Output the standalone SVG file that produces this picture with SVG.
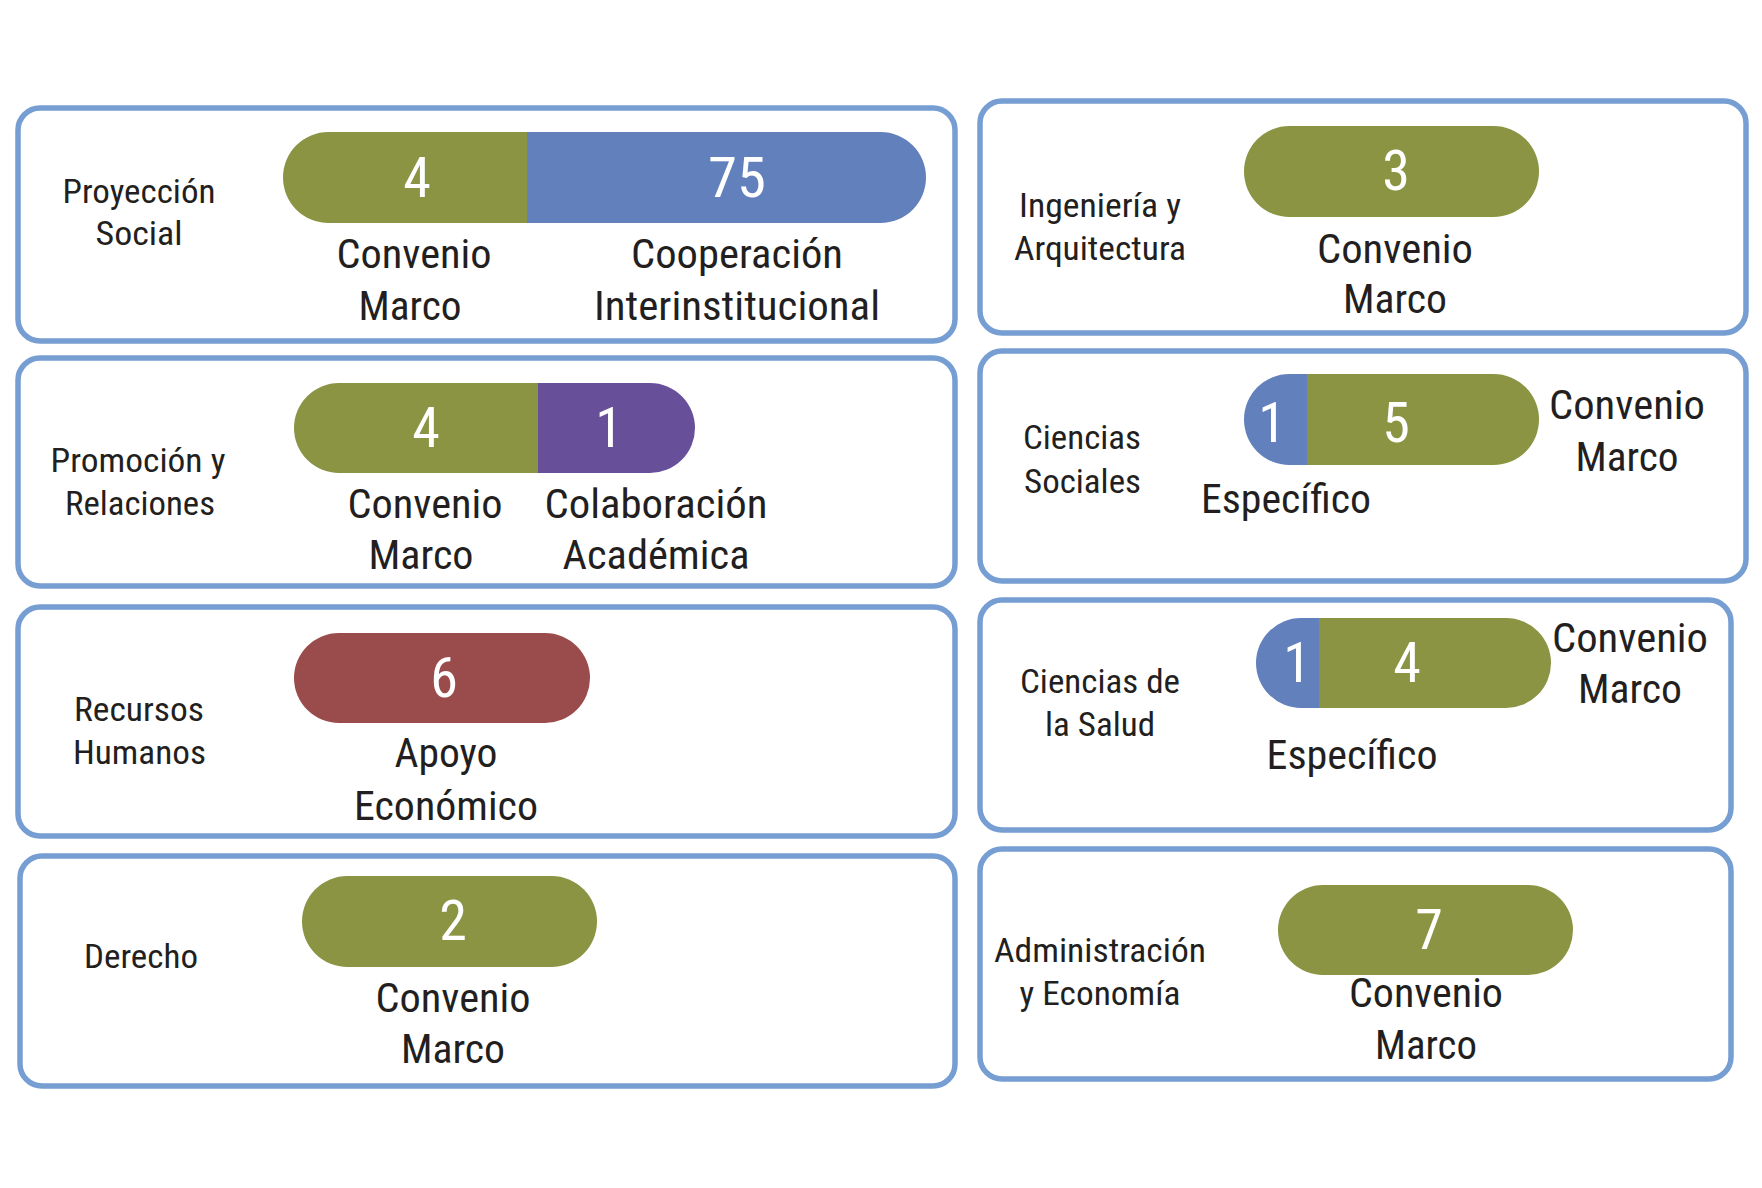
<svg xmlns="http://www.w3.org/2000/svg" width="1762" height="1188" viewBox="0 0 1762 1188">
<style>
.box{fill:#fff;stroke:#769ed3;stroke-width:5.5}
.g{fill:#8a9443}.b{fill:#6281bc}.p{fill:#674f9a}.r{fill:#9a4b4b}
text{font-family:"Roboto Condensed",Roboto,"Liberation Sans",sans-serif;text-anchor:middle}
.n{fill:#fff;font-size:56px}
.c{fill:#231f20;font-size:41px}
.l{fill:#231f20;font-size:34px}
</style>
<rect width="1762" height="1188" fill="#fff"/>
<g id="proyeccion-social">
<rect class="box" x="18" y="108" width="937" height="233" rx="22"/>
<path class="g" d="M527 132H328.5A45.5 45.5 0 0 0 328.5 223H527Z"/>
<path class="b" d="M527 132H880.5A45.5 45.5 0 0 1 880.5 223H527Z"/>
<text class="n" x="417" y="197">4</text>
<text class="n" x="737" y="197" textLength="58" lengthAdjust="spacingAndGlyphs">75</text>
<text class="l" x="139" y="203" textLength="153" lengthAdjust="spacingAndGlyphs">Proyección</text>
<text class="l" x="139" y="245" textLength="87" lengthAdjust="spacingAndGlyphs">Social</text>
<text class="c" x="414" y="268" textLength="155" lengthAdjust="spacingAndGlyphs">Convenio</text>
<text class="c" x="410" y="320" textLength="103" lengthAdjust="spacingAndGlyphs">Marco</text>
<text class="c" x="737" y="268" textLength="212" lengthAdjust="spacingAndGlyphs">Cooperación</text>
<text class="c" x="737" y="320" textLength="286" lengthAdjust="spacingAndGlyphs">Interinstitucional</text>
</g>
<g id="promocion-relaciones">
<rect class="box" x="18" y="358" width="937" height="228" rx="22"/>
<path class="g" d="M538 383H339A45 45 0 0 0 339 473H538Z"/>
<path class="p" d="M538 383H650A45 45 0 0 1 650 473H538Z"/>
<text class="n" x="426" y="447">4</text>
<text class="n" x="609" y="447">1</text>
<text class="l" x="138" y="472" textLength="175" lengthAdjust="spacingAndGlyphs">Promoción y</text>
<text class="l" x="140" y="515" textLength="150" lengthAdjust="spacingAndGlyphs">Relaciones</text>
<text class="c" x="425" y="518" textLength="155" lengthAdjust="spacingAndGlyphs">Convenio</text>
<text class="c" x="421" y="569" textLength="105" lengthAdjust="spacingAndGlyphs">Marco</text>
<text class="c" x="656" y="518" textLength="223" lengthAdjust="spacingAndGlyphs">Colaboración</text>
<text class="c" x="656" y="569" textLength="187" lengthAdjust="spacingAndGlyphs">Académica</text>
</g>
<g id="recursos-humanos">
<rect class="box" x="18" y="607" width="937" height="229" rx="22"/>
<rect class="r" x="294" y="633" width="296" height="90" rx="45"/>
<text class="n" x="444" y="697">6</text>
<text class="l" x="139" y="721" textLength="130" lengthAdjust="spacingAndGlyphs">Recursos</text>
<text class="l" x="139.5" y="764" textLength="133" lengthAdjust="spacingAndGlyphs">Humanos</text>
<text class="c" x="446" y="767" textLength="103" lengthAdjust="spacingAndGlyphs">Apoyo</text>
<text class="c" x="446" y="820" textLength="184" lengthAdjust="spacingAndGlyphs">Económico</text>
</g>
<g id="derecho">
<rect class="box" x="20" y="856" width="935" height="230" rx="22"/>
<rect class="g" x="302" y="876" width="295" height="91" rx="45.5"/>
<text class="n" x="453" y="940">2</text>
<text class="l" x="141" y="968" textLength="114" lengthAdjust="spacingAndGlyphs">Derecho</text>
<text class="c" x="453" y="1012" textLength="155" lengthAdjust="spacingAndGlyphs">Convenio</text>
<text class="c" x="453" y="1063" textLength="104" lengthAdjust="spacingAndGlyphs">Marco</text>
</g>
<g id="ingenieria-arquitectura">
<rect class="box" x="980" y="101" width="766" height="232" rx="22"/>
<rect class="g" x="1244" y="126" width="295" height="91" rx="45.5"/>
<text class="n" x="1396" y="190">3</text>
<text class="l" x="1100" y="217" textLength="162" lengthAdjust="spacingAndGlyphs">Ingeniería y</text>
<text class="l" x="1100" y="260" textLength="172" lengthAdjust="spacingAndGlyphs">Arquitectura</text>
<text class="c" x="1395" y="263" textLength="156" lengthAdjust="spacingAndGlyphs">Convenio</text>
<text class="c" x="1395" y="313" textLength="104" lengthAdjust="spacingAndGlyphs">Marco</text>
</g>
<g id="ciencias-sociales">
<rect class="box" x="980" y="351" width="766" height="230" rx="22"/>
<path class="b" d="M1307 374H1289.5A45.5 45.5 0 0 0 1289.5 465H1307Z"/>
<path class="g" d="M1307 374H1493.5A45.5 45.5 0 0 1 1493.5 465H1307Z"/>
<text class="n" x="1272" y="442">1</text>
<text class="n" x="1396" y="442">5</text>
<text class="l" x="1082" y="449" textLength="118" lengthAdjust="spacingAndGlyphs">Ciencias</text>
<text class="l" x="1082.5" y="493" textLength="117" lengthAdjust="spacingAndGlyphs">Sociales</text>
<text class="c" x="1627" y="419" textLength="156" lengthAdjust="spacingAndGlyphs">Convenio</text>
<text class="c" x="1627" y="471" textLength="103" lengthAdjust="spacingAndGlyphs">Marco</text>
<text class="c" x="1286" y="513" textLength="170" lengthAdjust="spacingAndGlyphs">Específico</text>
</g>
<g id="ciencias-salud">
<rect class="box" x="980" y="600" width="751" height="230" rx="22"/>
<path class="b" d="M1319 618H1301A45 45 0 0 0 1301 708H1319Z"/>
<path class="g" d="M1319 618H1506A45 45 0 0 1 1506 708H1319Z"/>
<text class="n" x="1297" y="682">1</text>
<text class="n" x="1407" y="682">4</text>
<text class="l" x="1100" y="693" textLength="160" lengthAdjust="spacingAndGlyphs">Ciencias de</text>
<text class="l" x="1100" y="736" textLength="110" lengthAdjust="spacingAndGlyphs">la Salud</text>
<text class="c" x="1630" y="652" textLength="156" lengthAdjust="spacingAndGlyphs">Convenio</text>
<text class="c" x="1630" y="703" textLength="104" lengthAdjust="spacingAndGlyphs">Marco</text>
<text class="c" x="1352" y="769" textLength="171" lengthAdjust="spacingAndGlyphs">Específico</text>
</g>
<g id="administracion-economia">
<rect class="box" x="980" y="849" width="751" height="230" rx="22"/>
<rect class="g" x="1278" y="885" width="295" height="90" rx="45"/>
<text class="n" x="1429" y="949">7</text>
<text class="l" x="1100" y="962" textLength="212" lengthAdjust="spacingAndGlyphs">Administración</text>
<text class="l" x="1100" y="1005" textLength="161" lengthAdjust="spacingAndGlyphs">y Economía</text>
<text class="c" x="1426" y="1007" textLength="154" lengthAdjust="spacingAndGlyphs">Convenio</text>
<text class="c" x="1426" y="1059" textLength="102" lengthAdjust="spacingAndGlyphs">Marco</text>
</g>
</svg>
